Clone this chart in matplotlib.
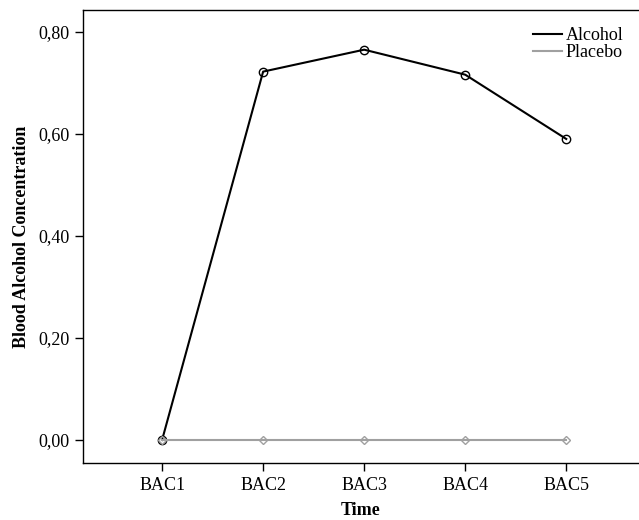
import matplotlib
matplotlib.use("Agg")
import matplotlib.pyplot as plt

times = ["BAC1", "BAC2", "BAC3", "BAC4", "BAC5"]
alcohol = [0.0, 0.722, 0.765, 0.716, 0.590]
placebo = [0.0, 0.0, 0.0, 0.0, 0.0]
y_ticks = [0.0, 0.2, 0.4, 0.6, 0.8]

plt.rcParams['font.family'] = ['Liberation Serif', 'DejaVu Serif']

fig = plt.figure(figsize=(6.39, 5.2), dpi=100)
ax = fig.add_axes([0.13, 0.1096, 0.87, 0.8714])

x = list(range(1, len(times) + 1))
ax.plot(x, alcohol, color='black', lw=1.5, marker='o', markersize=6,
        markerfacecolor='none', markeredgecolor='black', markeredgewidth=1.0,
        label='Alcohol', zorder=2)
ax.plot(x, placebo, color='#a0a0a0', lw=1.5, marker='D', markersize=4,
        markerfacecolor='none', markeredgecolor='#a0a0a0', markeredgewidth=1.0,
        label='Placebo', zorder=3)

ax.set_xlim(0.218, 5.72)
ax.set_ylim(-0.0451, 0.843)
ax.set_xticks(x)
ax.set_xticklabels(times, fontsize=13)
ax.set_yticks(y_ticks)
ax.set_yticklabels([f"{v:.2f}".replace('.', ',') for v in y_ticks], fontsize=13)
ax.spines['right'].set_visible(False)
for s in ['left', 'bottom', 'top']:
    ax.spines[s].set_linewidth(1.0)
ax.tick_params(direction='out', length=6, width=1.0, pad=4)

ax.set_xlabel('Time', fontsize=13, fontweight='bold', labelpad=6)
ax.set_ylabel('Blood Alcohol Concentration', fontsize=13, fontweight='bold', labelpad=6)

leg = ax.legend(loc='upper right', bbox_to_anchor=(0.995, 0.99), frameon=False,
                fontsize=13, handlelength=1.6, handletextpad=0.2,
                labelspacing=0.0, borderpad=0.2)
for h in leg.get_lines():
    h.set_marker('')

fig.savefig('out.png', dpi=100)
